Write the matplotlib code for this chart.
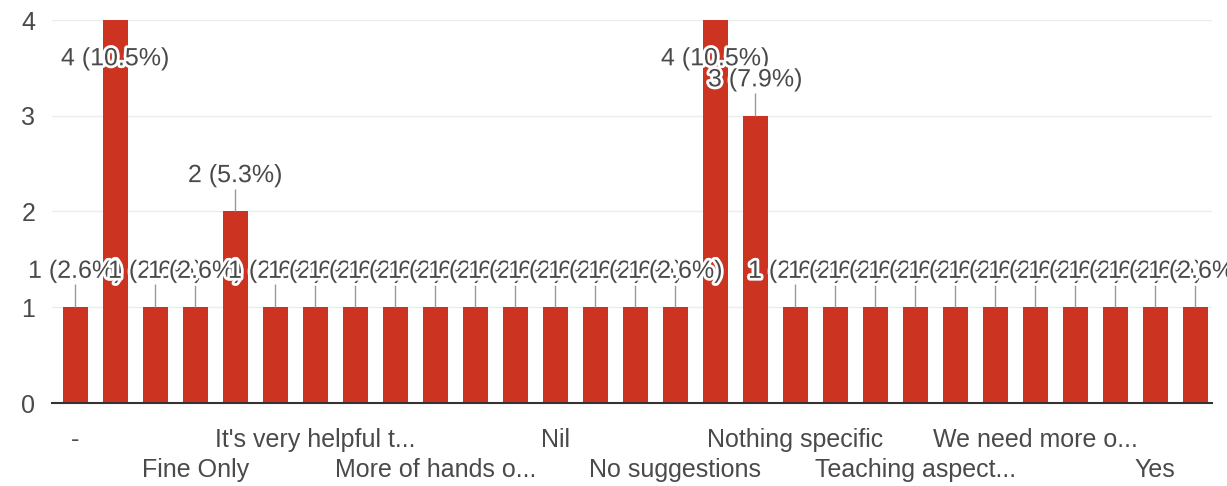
import matplotlib.pyplot as plt
import matplotlib.patheffects as pe
import numpy as np

# answers (only every third label is shown by the chart, others unknown)
categories = ['-', '', '', 'Fine Only', '', '', "It's very helpful t...", '', '',
              'More of hands o...', '', '', 'Nil', '', '', 'No suggestions', '', '',
              'Nothing specific', '', '', 'Teaching aspect...', '', '',
              'We need more o...', '', '', 'Yes', '']
counts = [1, 4, 1, 1, 2, 1, 1, 1, 1, 1, 1, 1, 1, 1, 1, 1,
          4, 3, 1, 1, 1, 1, 1, 1, 1, 1, 1, 1, 1]
total = sum(counts)

plt.rcParams['font.family'] = ['Liberation Sans', 'DejaVu Sans']

fig = plt.figure(figsize=(12.27, 4.86), dpi=100)
ax = fig.add_axes([52 / 1227, 83 / 486, 1160 / 1227, 383 / 486])

x = np.arange(len(counts))
ax.bar(x, counts, width=0.63, color='#cc3321', zorder=2)

ax.set_xlim(-0.58, len(counts) - 0.58)
ax.set_ylim(0, 4)
ax.set_yticks([0, 1, 2, 3, 4])
ax.grid(axis='y', color='#ececec', linewidth=1, zorder=0)
for s in ['top', 'right', 'left']:
    ax.spines[s].set_visible(False)
ax.spines['bottom'].set_color('#333333')
ax.spines['bottom'].set_linewidth(1.5)
ax.spines['bottom'].set_zorder(3)

# two staggered rows of x labels
labels = []
shown = 0
for c in categories:
    if c:
        labels.append(c if shown % 2 == 0 else '\n' + c)
        shown += 1
    else:
        labels.append('')
ax.set_xticks(x)
ax.set_xticklabels(labels, fontsize=18, color='#4a4a4a', va='top', linespacing=1.32)
ax.tick_params(axis='x', length=0, pad=18)
ax.tick_params(axis='y', length=0, pad=12, labelsize=18, labelcolor='#4a4a4a')

# value labels with leader lines
halo = [pe.withStroke(linewidth=4, foreground='white')]
for i, v in enumerate(counts):
    ty = min(v + 0.38, 3.6)
    if ty > v:
        ax.vlines(i, v, v + 0.24, color='#999999', linewidth=1, zorder=3)
    ax.text(i, ty, '{} ({:.1f}%)'.format(v, v / total * 100), ha='center', va='center',
            fontsize=18, color='#4a4a4a', path_effects=halo, zorder=4 + i * 0.01)

fig.savefig('out.png', dpi=100)
